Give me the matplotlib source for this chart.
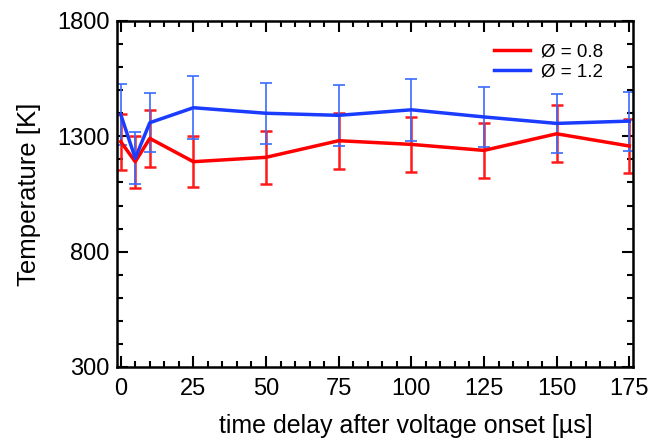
import numpy as np
import matplotlib
matplotlib.use('Agg')
import matplotlib.pyplot as plt
from matplotlib.ticker import MultipleLocator

plt.rcParams['font.family'] = ['Liberation Sans', 'DejaVu Sans']

# time delay [us]
t = [0, 5, 10, 25, 50, 75, 100, 125, 150, 175]
# phi = 0.8
T_08 = [1277, 1190, 1291, 1190, 1209, 1281, 1265, 1239, 1311, 1258]
err_08 = [121, 112, 123, 111, 116, 121, 120, 118, 124, 118]
# phi = 1.2
T_12 = [1395, 1205, 1359, 1424, 1400, 1391, 1415, 1384, 1356, 1366]
err_12 = [131, 113, 129, 136, 132, 131, 134, 131, 128, 128]
y_ticks = [300, 800, 1300, 1800]

fig = plt.figure(figsize=(6.48, 4.43), dpi=100)
ax = fig.add_axes([0.180, 0.1716, 0.797, 0.781])

ax.errorbar(t, T_08, yerr=err_08, fmt='none', ecolor='#ff1a1a', elinewidth=1.8, capsize=4, capthick=1.8, zorder=2)
ax.errorbar(t, T_12, yerr=err_12, fmt='none', ecolor='#3a6cff', elinewidth=1.2, capsize=4, capthick=1.2, zorder=2)
ax.plot(t, T_08, '-', color='#ff0000', lw=2.5, label='Ø = 0.8', zorder=3)
ax.plot(t, T_12, '-', color='#1a3cff', lw=2.5, label='Ø = 1.2', zorder=3)

ax.set_xlim(-1.4, 176.3)
ax.set_ylim(300, 1800)
ax.xaxis.set_major_locator(MultipleLocator(25))
ax.xaxis.set_minor_locator(MultipleLocator(5))
ax.set_yticks(y_ticks)
ax.yaxis.set_minor_locator(MultipleLocator(100))
ax.tick_params(which='both', direction='in', top=True, right=True, width=1.5, labelsize=17, pad=5)
ax.tick_params(axis='x', pad=8)
ax.tick_params(which='major', length=8)
ax.tick_params(which='minor', length=4)
for s in ax.spines.values():
    s.set_linewidth(1.8)

ax.set_xlabel('time delay after voltage onset [µs]', fontsize=18, labelpad=10, x=0.56)
ax.set_ylabel('Temperature [K]', fontsize=18.5, labelpad=12)

ax.legend(loc='upper right', frameon=False, fontsize=13.5, handlelength=1.9,
          handletextpad=0.6, labelspacing=0.15, bbox_to_anchor=(0.975, 0.985))

fig.savefig('out.png', dpi=100)
